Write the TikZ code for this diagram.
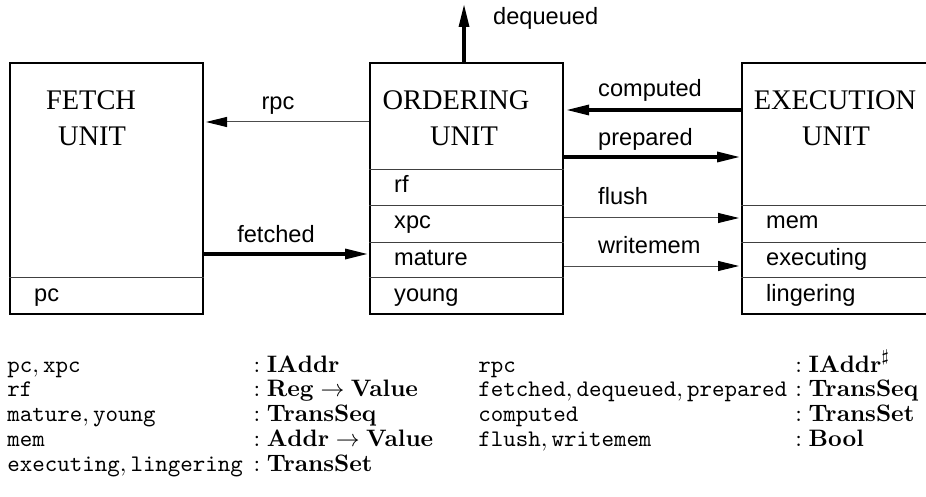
\documentclass[tikz,border=0pt]{standalone}
\usepackage{fix-cm}
\usepackage[no-math]{fontspec}
\newfontfamily\unitfont{Liberation Serif}
\newfontfamily\labelfont{Liberation Sans}
\usetikzlibrary{arrows.meta}

\tikzset{
  unitbox/.style={draw=black, line width=2pt, minimum width=193pt,
    minimum height=251pt, inner sep=0pt, anchor=north west},
  titletext/.style={font=\unitfont\fontsize{28.4}{34}\selectfont,
    anchor=base, inner sep=0pt},
  fieldtext/.style={font=\labelfont\fontsize{23.6}{28}\selectfont,
    anchor=base west, inner sep=0pt},
  wiretext/.style={font=\labelfont\fontsize{23.6}{28}\selectfont,
    inner sep=0pt},
  separator/.style={draw=black!75, line width=1pt},
  thinwire/.style={draw=black!70, line width=1pt,
    -{Triangle[length=21pt, width=10pt, color=black]}},
  thickwire/.style={draw=black, line width=3.5pt,
    -{Triangle[length=22pt, width=11pt, line width=0pt]}},
  typetable/.style={font=\fontsize{10}{10.5}\selectfont, scale=2.38,
    anchor=base west, inner sep=0pt},
}

\begin{document}
\begin{tikzpicture}[x=1pt, y=-1pt]
\useasboundingbox (0,0) rectangle (926,497);

% the three units
\node[unitbox] (fetch) at (9,62) {};
\node[unitbox] (ordering) at (369,62) {};
\node[unitbox, minimum width=220pt] (execution) at (741,62) {};

% unit titles
\node[titletext] (fetch-t1) at (91,110) {FETCH};
\node[titletext] (fetch-t2) at (92,146) {UNIT};
\node[titletext] (ordering-t1) at (456,110) {ORDERING};
\node[titletext] (ordering-t2) at (464,146) {UNIT};
\node[titletext] (execution-t1) at (835,110) {EXECUTION};
\node[titletext] (execution-t2) at (836,146) {UNIT};

% heights of the state rows
\coordinate (row1) at (0,170);
\coordinate (row2) at (0,206);
\coordinate (row3) at (0,242);
\coordinate (row4) at (0,277);

% state rows of each unit
\draw[separator] (fetch.west |- row4) -- (fetch.east |- row4);
\foreach \r in {row1,row2,row3,row4}
  \draw[separator] (ordering.west |- \r) -- (ordering.east |- \r);
\foreach \r in {row2,row3,row4}
  \draw[separator] (execution.west |- \r) -- (execution.east |- \r);

\node[fieldtext] (pc) at (34,301) {pc};
\node[fieldtext] (rf) at (394,193) {rf};
\node[fieldtext] (xpc) at (394,229) {xpc};
\node[fieldtext] (mature) at (394,265) {mature};
\node[fieldtext] (young) at (394,301) {young};
\node[fieldtext] (mem) at (766,229) {mem};
\node[fieldtext] (executing) at (766,265) {executing};
\node[fieldtext] (lingering) at (766,301) {lingering};

% heights of the wires
\coordinate (w-computed) at (0,110);
\coordinate (w-rpc) at (0,122);
\coordinate (w-prepared) at (0,157);
\coordinate (w-flush) at (0,218);
\coordinate (w-fetched) at (0,254);
\coordinate (w-writemem) at (0,266);
\coordinate (dq-top) at (464,5);

% wires between the units
\draw[thinwire, shorten >=2pt] (ordering.west |- w-rpc) -- (fetch.east |- w-rpc);
\draw[thickwire, shorten >=2pt] (fetch.east |- w-fetched) -- (ordering.west |- w-fetched);
\draw[thickwire, shorten >=3pt] (execution.west |- w-computed) -- (ordering.east |- w-computed);
\draw[thickwire, shorten >=2pt] (ordering.east |- w-prepared) -- (execution.west |- w-prepared);
\draw[thinwire, shorten >=2pt] (ordering.east |- w-flush) -- (execution.west |- w-flush);
\draw[thinwire, shorten >=2pt] (ordering.east |- w-writemem) -- (execution.west |- w-writemem);
\draw[thickwire] (ordering.north -| dq-top) -- (dq-top);

% wire labels
\node[wiretext, anchor=base] (l-rpc) at (278,110) {rpc};
\node[wiretext, anchor=base] (l-fetched) at (276,242) {fetched};
\node[wiretext, anchor=base west] (l-computed) at (598,97) {computed};
\node[wiretext, anchor=base west] (l-prepared) at (598,146) {prepared};
\node[wiretext, anchor=base west] (l-flush) at (598,205) {flush};
\node[wiretext, anchor=base west] (l-writemem) at (598,253) {writemem};
\node[wiretext, anchor=base west] (l-dequeued) at (493,25) {dequeued};

% types of the state and the wires
\node[typetable] (types-state) at (7,372) {%
  \begin{tabular}[t]{@{}p{103.4pt}@{}l@{}}
    $\mathtt{pc}, \mathtt{xpc}$ & $:\mathbf{IAddr}$\\
    $\mathtt{rf}$ & $:\mathbf{Reg}\to\mathbf{Value}$\\
    $\mathtt{mature}, \mathtt{young}$ & $:\mathbf{TransSeq}$\\
    $\mathtt{mem}$ & $:\mathbf{Addr}\to\mathbf{Value}$\\
    $\mathtt{executing}, \mathtt{lingering}$ & $:\mathbf{TransSet}$
  \end{tabular}};
\node[typetable] (types-wires) at (478,372) {%
  \begin{tabular}[t]{@{}p{133.2pt}@{}l@{}}
    $\mathtt{rpc}$ & $:\mathbf{IAddr}^{\sharp}$\\
    $\mathtt{fetched}, \mathtt{dequeued}, \mathtt{prepared}$ & $:\mathbf{TransSeq}$\\
    $\mathtt{computed}$ & $:\mathbf{TransSet}$\\
    $\mathtt{flush}, \mathtt{writemem}$ & $:\mathbf{Bool}$
  \end{tabular}};
\end{tikzpicture}
\end{document}
